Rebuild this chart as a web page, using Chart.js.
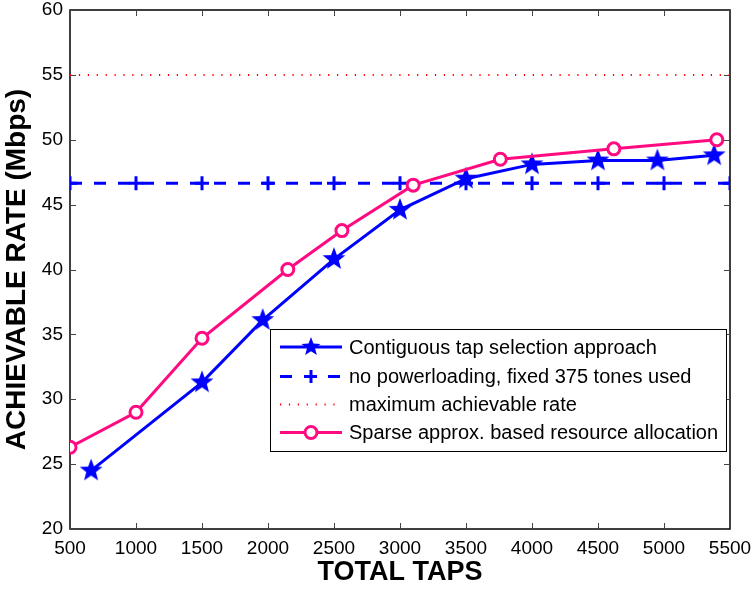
<!DOCTYPE html>
<html>
<head>
<meta charset="utf-8">
<script src="https://cdn.jsdelivr.net/npm/chart.js@4.4.0/dist/chart.umd.min.js"></script>
<style>
  body { margin: 0; background: #fff; }
  #wrap { width: 755px; height: 589px; position: relative; }
</style>
</head>
<body>
<div id="wrap"><canvas id="rate-chart"></canvas></div>
<script>
// values
const xTicks = [500, 1000, 1500, 2000, 2500, 3000, 3500, 4000, 4500, 5000, 5500];
const yTicks = [20, 25, 30, 35, 40, 45, 50, 55, 60];

const contigTaps = [660, 1500, 1960, 2500, 3000, 3500, 4000, 4500, 4950, 5380];
const contigRate = [24.5, 31.3, 36.1, 40.8, 44.6, 47.0, 48.1, 48.4, 48.4, 48.8];

const fixedTaps = [500, 1000, 1500, 2000, 2500, 3000, 3500, 4000, 4500, 5000, 5500];
const fixedRate = [46.65, 46.65, 46.65, 46.65, 46.65, 46.65, 46.65, 46.65, 46.65, 46.65, 46.65];

const maxTaps = [500, 5500];
const maxRate = [55, 55];

const sparseTaps = [500, 1000, 1500, 2150, 2560, 3100, 3760, 4620, 5400];
const sparseRate = [26.3, 29.0, 34.7, 40.0, 43.0, 46.5, 48.5, 49.3, 50.0];

const labels = [
  'Contiguous tap selection approach',
  'no powerloading, fixed 375 tones used',
  'maximum achievable rate',
  'Sparse approx. based resource allocation',
];

const BLUE = '#0000ff';
const PINK = '#ff0a80';
const RED = '#ff0000';
const FONT = "'Liberation Sans', Arial, sans-serif";

const makeStar = (r, color) => {
  const c = document.createElement('canvas');
  const s = Math.ceil(r * 2 + 2);
  c.width = s;
  c.height = s;
  const g = c.getContext('2d');
  g.fillStyle = color;
  g.beginPath();
  for (let i = 0; i < 10; i++) {
    const rad = i % 2 ? r * 0.42 : r;
    const a = -Math.PI / 2 + (i * Math.PI) / 5;
    g.lineTo(s / 2 + rad * Math.cos(a), s / 2 + rad * Math.sin(a));
  }
  g.closePath();
  g.fill();
  return c;
};

const bigStar = makeStar(12, BLUE);
const smallStar = makeStar(10, BLUE);

const toPoints = (xs, ys) => xs.map((x, i) => ({ x, y: ys[i] }));

// matlab style box with inward ticks
const framePlugin = {
  id: 'frame',
  beforeDatasetsDraw(chart) {
    const { ctx, chartArea: a, scales } = chart;
    ctx.save();
    ctx.strokeStyle = '#000';
    ctx.lineWidth = 1.5;
    ctx.strokeRect(a.left, a.top, a.right - a.left, a.bottom - a.top);
    ctx.strokeStyle = '#444';
    ctx.lineWidth = 1;
    const len = 6;
    ctx.beginPath();
    xTicks.forEach((v) => {
      const px = Math.round(scales.x.getPixelForValue(v)) + 0.5;
      ctx.moveTo(px, a.bottom);
      ctx.lineTo(px, a.bottom - len);
      ctx.moveTo(px, a.top);
      ctx.lineTo(px, a.top + len);
    });
    yTicks.forEach((v) => {
      const py = Math.round(scales.y.getPixelForValue(v)) + 0.5;
      ctx.moveTo(a.left, py);
      ctx.lineTo(a.left + len, py);
      ctx.moveTo(a.right, py);
      ctx.lineTo(a.right - len, py);
    });
    ctx.stroke();
    ctx.restore();
  },
};

const legendPlugin = {
  id: 'boxLegend',
  afterDraw(chart) {
    const { ctx } = chart;
    const box = { x: 270.5, y: 329.5, w: 456, h: 122 };
    const rows = [347, 376.5, 404.5, 432.5];
    ctx.save();
    ctx.fillStyle = '#fff';
    ctx.fillRect(box.x, box.y, box.w, box.h);
    ctx.strokeStyle = '#000';
    ctx.lineWidth = 1;
    ctx.strokeRect(box.x, box.y, box.w, box.h);

    const styles = [
      { color: BLUE, width: 3, dash: [], marker: 'star' },
      { color: BLUE, width: 3, dash: [12, 12], marker: 'plus' },
      { color: RED, width: 2, dash: [1.2, 7.7], marker: null },
      { color: PINK, width: 3, dash: [], marker: 'circle' },
    ];
    styles.forEach((st, i) => {
      const y = rows[i];
      ctx.strokeStyle = st.color;
      ctx.lineWidth = st.width;
      ctx.setLineDash(st.dash);
      ctx.beginPath();
      ctx.moveTo(280, y);
      ctx.lineTo(342, y);
      ctx.stroke();
      ctx.setLineDash([]);
      if (st.marker === 'star') {
        ctx.drawImage(smallStar, 311 - smallStar.width / 2, y - smallStar.height / 2);
      } else if (st.marker === 'plus') {
        ctx.beginPath();
        ctx.moveTo(305, y);
        ctx.lineTo(317, y);
        ctx.moveTo(311, y - 6.5);
        ctx.lineTo(311, y + 6.5);
        ctx.stroke();
      } else if (st.marker === 'circle') {
        ctx.fillStyle = '#fff';
        ctx.beginPath();
        ctx.arc(311, y, 6, 0, Math.PI * 2);
        ctx.fill();
        ctx.stroke();
      }
      ctx.fillStyle = '#000';
      ctx.font = `20px ${FONT}`;
      ctx.textBaseline = 'middle';
      ctx.fillText(labels[i], 349, y + 1);
    });
    ctx.restore();
  },
};

const ctx = document.getElementById('rate-chart').getContext('2d');
new Chart(ctx, {
  type: 'line',
  data: {
    datasets: [
      {
        label: labels[0],
        data: toPoints(contigTaps, contigRate),
        borderColor: BLUE,
        borderWidth: 3,
        pointStyle: bigStar,
        order: 1,
      },
      {
        label: labels[1],
        data: toPoints(fixedTaps, fixedRate),
        borderColor: BLUE,
        borderWidth: 3,
        borderDash: [12, 12],
        pointStyle: 'cross',
        pointRadius: 7,
        pointBorderWidth: 3,
        pointBorderColor: BLUE,
        order: 2,
      },
      {
        label: labels[2],
        data: toPoints(maxTaps, maxRate),
        borderColor: RED,
        borderWidth: 2,
        borderDash: [1.2, 7.7],
        pointRadius: 0,
        order: 3,
      },
      {
        label: labels[3],
        data: toPoints(sparseTaps, sparseRate),
        borderColor: PINK,
        borderWidth: 3,
        pointStyle: 'circle',
        pointRadius: 6,
        pointBorderWidth: 3,
        pointBorderColor: PINK,
        pointBackgroundColor: '#fff',
        order: 0,
      },
    ],
  },
  options: {
    responsive: true,
    maintainAspectRatio: false,
    animation: false,
    events: [],
    layout: { padding: { top: 9, right: 25, bottom: 0, left: 0 } },
    elements: { line: { tension: 0, fill: false } },
    plugins: { legend: { display: false }, tooltip: { enabled: false } },
    scales: {
      x: {
        type: 'linear',
        min: 500,
        max: 5500,
        grid: { display: false, drawTicks: false },
        border: { display: false },
        ticks: {
          stepSize: 500,
          padding: 8,
          color: '#000',
          maxRotation: 0,
          autoSkip: false,
          font: { family: FONT, size: 19 },
          callback: (v) => String(v),
        },
        title: {
          display: true,
          text: 'TOTAL TAPS',
          color: '#000',
          padding: 0,
          font: { family: FONT, size: 27, weight: 'bold' },
        },
        afterFit(scale) {
          scale.height = 60;
          scale.paddingLeft = 0;
          scale.paddingRight = 0;
        },
      },
      y: {
        min: 20,
        max: 60,
        grid: { display: false, drawTicks: false },
        border: { display: false },
        ticks: {
          stepSize: 5,
          padding: 7,
          color: '#000',
          font: { family: FONT, size: 19 },
        },
        title: {
          display: true,
          text: 'ACHIEVABLE RATE (Mbps)',
          color: '#000',
          padding: 0,
          font: { family: FONT, size: 28, weight: 'bold' },
        },
        afterFit(scale) {
          scale.width = 70;
          scale.paddingTop = 0;
          scale.paddingBottom = 0;
        },
      },
    },
  },
  plugins: [framePlugin, legendPlugin],
});
</script>
</body>
</html>
